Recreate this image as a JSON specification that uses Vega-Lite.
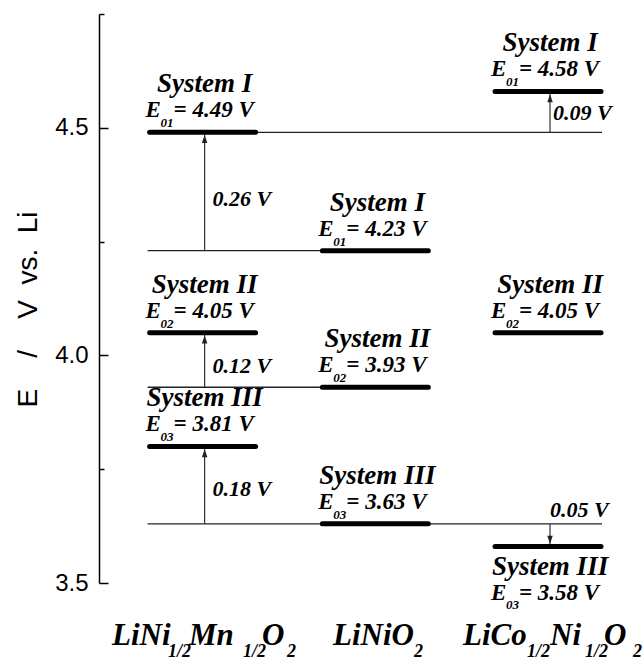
{
  "$schema": "https://vega.github.io/schema/vega-lite/v6.json",
  "width": 544,
  "height": 569,
  "autosize": {"type": "none"},
  "padding": {"left": 99, "top": 14, "right": 0, "bottom": 78},
  "background": "white",
  "config": {"view": {"stroke": null}},
  "datasets": {
    "levels": [
      {"g": 1, "E": 4.49, "title": "System I", "n": "01", "eq": "= 4.49 V", "side": "above"},
      {"g": 1, "E": 4.05, "title": "System II", "n": "02", "eq": "= 4.05 V", "side": "above"},
      {"g": 1, "E": 3.80, "title": "System III", "n": "03", "eq": "= 3.81 V", "side": "above"},
      {"g": 2, "E": 4.23, "title": "System I", "n": "01", "eq": "= 4.23 V", "side": "above"},
      {"g": 2, "E": 3.93, "title": "System II", "n": "02", "eq": "= 3.93 V", "side": "above"},
      {"g": 2, "E": 3.63, "title": "System III", "n": "03", "eq": "= 3.63 V", "side": "above"},
      {"g": 3, "E": 4.58, "title": "System I", "n": "01", "eq": "= 4.58 V", "side": "above"},
      {"g": 3, "E": 4.05, "title": "System II", "n": "02", "eq": "= 4.05 V", "side": "above"},
      {"g": 3, "E": 3.58, "title": "System III", "n": "03", "eq": "= 3.58 V", "side": "below"}
    ],
    "links": [
      {"E": 4.49, "from": 1, "to": 3},
      {"E": 4.23, "from": 1, "to": 2},
      {"E": 3.93, "from": 1, "to": 2},
      {"E": 3.63, "from": 1, "to": 3}
    ],
    "steps": [
      {"g": 1, "E": 4.23, "y2": 4.49, "dir": "up", "label": "0.26 V", "lx": 1.057, "ly": 4.328},
      {"g": 1, "E": 3.93, "y2": 4.05, "dir": "up", "label": "0.12 V", "lx": 1.057, "ly": 3.962},
      {"g": 1, "E": 3.63, "y2": 3.80, "dir": "up", "label": "0.18 V", "lx": 1.057, "ly": 3.692},
      {"g": 3, "E": 4.49, "y2": 4.58, "dir": "up", "label": "0.09 V", "lx": 3.029, "ly": 4.517},
      {"g": 3, "E": 3.63, "y2": 3.58, "dir": "down", "label": "0.05 V", "lx": 3.012, "ly": 3.646}
    ],
    "formula": [
      {"x": 0.4753, "t": "LiNi", "kind": "main"},
      {"x": 0.7995, "t": "1/2", "kind": "sub"},
      {"x": 0.9211, "t": "Mn", "kind": "main"},
      {"x": 1.2338, "t": "1/2", "kind": "sub"},
      {"x": 1.3438, "t": "O", "kind": "main"},
      {"x": 1.4886, "t": "2", "kind": "sub"},
      {"x": 1.7550, "t": "LiNiO", "kind": "main"},
      {"x": 2.2240, "t": "2", "kind": "sub"},
      {"x": 2.5077, "t": "LiCo", "kind": "main"},
      {"x": 2.8783, "t": "1/2", "kind": "sub"},
      {"x": 3.0115, "t": "Ni", "kind": "main"},
      {"x": 3.2142, "t": "1/2", "kind": "sub"},
      {"x": 3.3242, "t": "O", "kind": "main"},
      {"x": 3.4921, "t": "2", "kind": "sub"}
    ]
  },
  "layer": [
    {
      "encoding": {
        "x": {"field": "g", "type": "quantitative", "scale": {"domain": [0.4, 3.55], "nice": false, "zero": false}, "axis": null},
        "y": {
          "field": "E", "type": "quantitative",
          "scale": {"domain": [3.5, 4.75], "nice": false, "zero": false},
          "axis": {
            "values": [3.5, 3.75, 4, 4.25, 4.5, 4.75],
            "labelExpr": "(datum.value == 3.5 || datum.value == 4 || datum.value == 4.5) ? format(datum.value, '.1f') : ''",
            "tickSize": {"condition": {"test": "datum.value == 3.5 || datum.value == 4 || datum.value == 4.5", "value": -9}, "value": -5},
            "tickColor": "black",
            "tickWidth": 1.5,
            "domainColor": "black",
            "domainWidth": 1.5,
            "grid": false,
            "labelFont": "Liberation Sans",
            "labelFontSize": 24,
            "labelColor": "black",
            "labelPadding": 20,
            "labelFlush": false,
            "labelOverlap": false,
            "title": "E\u00a0\u00a0\u00a0\u00a0/\u00a0\u00a0\u00a0\u00a0V\u00a0\u00a0vs.\u00a0\u00a0Li",
            "titleFont": "Liberation Sans",
            "titleFontSize": 28,
            "titleFontWeight": "normal",
            "titleColor": "black",
            "titleX": -71,
            "titleY": 295,
            "titleAngle": -90,
            "titleAlign": "center",
            "titleBaseline": "middle"
          }
        }
      },
      "layer": [
        {
          "data": {"name": "links"},
          "mark": {"type": "rule", "xOffset": -55, "x2Offset": 54, "strokeWidth": 1.3, "color": "#222222"},
          "encoding": {
            "x": {"field": "from", "type": "quantitative", "scale": {"domain": [0.4, 3.55], "nice": false, "zero": false}, "axis": null},
            "x2": {"field": "to"}
          }
        },
        {
          "data": {"name": "steps"},
          "mark": {"type": "rule", "xOffset": 2, "strokeWidth": 1.2, "color": "#333333"},
          "encoding": {"y2": {"field": "y2"}}
        },
        {
          "data": {"name": "steps"},
          "mark": {"type": "text", "font": "Liberation Serif", "fontStyle": "italic", "fontWeight": "bold", "fontSize": 22, "align": "left", "baseline": "alphabetic", "color": "black"},
          "encoding": {
            "x": {"field": "lx", "type": "quantitative", "scale": {"domain": [0.4, 3.55], "nice": false, "zero": false}, "axis": null},
            "y": {"field": "ly", "type": "quantitative", "scale": {"domain": [3.5, 4.75], "nice": false, "zero": false}},
            "text": {"field": "label"}
          }
        },
        {
          "data": {"name": "steps"},
          "mark": {"type": "point", "filled": true, "size": 100, "xOffset": 2, "opacity": 1, "strokeWidth": 0, "color": "#222222"},
          "encoding": {
            "y": {"field": "y2", "type": "quantitative", "scale": {"domain": [3.5, 4.75], "nice": false, "zero": false}},
            "shape": {"field": "dir", "type": "nominal", "scale": {"domain": ["up", "down"], "range": ["M0,0.55L-0.55,2.15L0.55,2.15Z", "M0,-0.55L-0.55,-2.15L0.55,-2.15Z"]}, "legend": null}
          }
        },
        {
          "data": {"name": "levels"},
          "layer": [
            {
              "mark": {"type": "rule", "xOffset": -53, "x2Offset": 53, "strokeWidth": 5, "strokeCap": "round", "color": "black"},
              "encoding": {"x2": {"field": "g"}}
            },
            {
              "transform": [{"filter": "datum.side == 'above'"}],
              "mark": {"type": "text", "font": "Liberation Serif", "fontStyle": "italic", "fontWeight": "bold", "fontSize": 27, "align": "center", "baseline": "alphabetic", "dx": 2, "dy": -40, "color": "black"},
              "encoding": {"text": {"field": "title"}}
            },
            {
              "transform": [{"filter": "datum.side == 'below'"}],
              "mark": {"type": "text", "font": "Liberation Serif", "fontStyle": "italic", "fontWeight": "bold", "fontSize": 27, "align": "center", "baseline": "alphabetic", "dx": 2, "dy": 28, "color": "black"},
              "encoding": {"text": {"field": "title"}}
            },
            {
              "transform": [{"filter": "datum.side == 'above'"}],
              "mark": {"type": "text", "font": "Liberation Serif", "fontStyle": "italic", "fontWeight": "bold", "fontSize": 23, "align": "left", "baseline": "alphabetic", "dx": -57, "dy": -15, "color": "black"},
              "encoding": {"text": {"value": "E"}}
            },
            {
              "transform": [{"filter": "datum.side == 'below'"}],
              "mark": {"type": "text", "font": "Liberation Serif", "fontStyle": "italic", "fontWeight": "bold", "fontSize": 23, "align": "left", "baseline": "alphabetic", "dx": -57, "dy": 53, "color": "black"},
              "encoding": {"text": {"value": "E"}}
            },
            {
              "transform": [{"filter": "datum.side == 'above'"}],
              "mark": {"type": "text", "font": "Liberation Serif", "fontStyle": "italic", "fontWeight": "bold", "fontSize": 13, "align": "left", "baseline": "alphabetic", "dx": -42, "dy": -5, "color": "black"},
              "encoding": {"text": {"field": "n"}}
            },
            {
              "transform": [{"filter": "datum.side == 'below'"}],
              "mark": {"type": "text", "font": "Liberation Serif", "fontStyle": "italic", "fontWeight": "bold", "fontSize": 13, "align": "left", "baseline": "alphabetic", "dx": -42, "dy": 62, "color": "black"},
              "encoding": {"text": {"field": "n"}}
            },
            {
              "transform": [{"filter": "datum.side == 'above'"}],
              "mark": {"type": "text", "font": "Liberation Serif", "fontStyle": "italic", "fontWeight": "bold", "fontSize": 23, "align": "left", "baseline": "alphabetic", "dx": -29, "dy": -15, "color": "black"},
              "encoding": {"text": {"field": "eq"}}
            },
            {
              "transform": [{"filter": "datum.side == 'below'"}],
              "mark": {"type": "text", "font": "Liberation Serif", "fontStyle": "italic", "fontWeight": "bold", "fontSize": 23, "align": "left", "baseline": "alphabetic", "dx": -29, "dy": 53, "color": "black"},
              "encoding": {"text": {"field": "eq"}}
            }
          ]
        }
      ]
    },
    {
      "data": {"name": "formula"},
      "transform": [{"filter": "datum.kind == 'main'"}],
      "mark": {"type": "text", "font": "Liberation Serif", "fontStyle": "italic", "fontWeight": "bold", "fontSize": 31, "align": "left", "baseline": "alphabetic", "color": "black"},
      "encoding": {
        "x": {"field": "x", "type": "quantitative", "scale": {"domain": [0.4, 3.55], "nice": false, "zero": false}, "axis": null},
        "y": {"datum": 3.3638, "type": "quantitative", "scale": {"domain": [3.5, 4.75], "nice": false, "zero": false}},
        "text": {"field": "t"}
      }
    },
    {
      "data": {"name": "formula"},
      "transform": [{"filter": "datum.kind == 'sub'"}],
      "mark": {"type": "text", "font": "Liberation Serif", "fontStyle": "italic", "fontWeight": "bold", "fontSize": 18, "align": "left", "baseline": "alphabetic", "color": "black"},
      "encoding": {
        "x": {"field": "x", "type": "quantitative", "scale": {"domain": [0.4, 3.55], "nice": false, "zero": false}, "axis": null},
        "y": {"datum": 3.3374, "type": "quantitative", "scale": {"domain": [3.5, 4.75], "nice": false, "zero": false}},
        "text": {"field": "t"}
      }
    }
  ]
}
